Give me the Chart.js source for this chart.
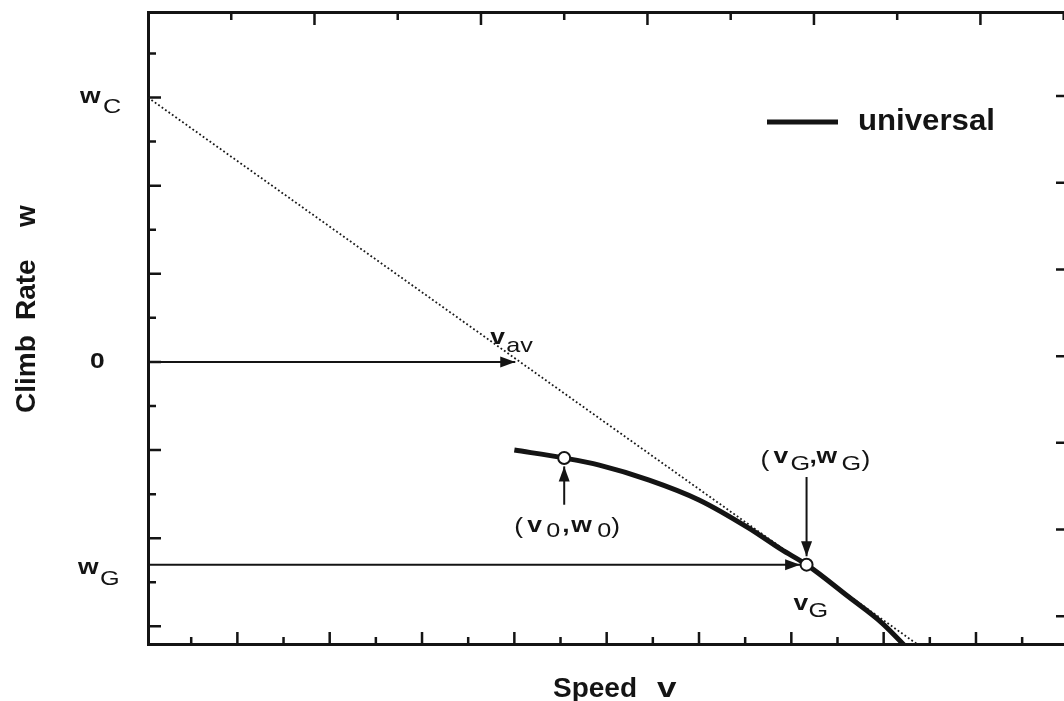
<!DOCTYPE html>
<html lang="en">
<head>
  <meta charset="UTF-8">
  <title>Climb rate vs speed</title>
  <script src="https://cdn.jsdelivr.net/npm/chart.js@4.4.1/dist/chart.umd.min.js"></script>
  <style>
    html, body {
      margin: 0;
      padding: 0;
      overflow: hidden;
      background: #fff;
    }
    .wrap {
      width: 1080px;
      height: 701px;
    }
  </style>
</head>
<body>
  <div class="wrap"><canvas id="polar"></canvas></div>
  <script>
    // axis ranges (units of one tick)
    const X_MIN = 0.064, X_MAX = 20.08;
    const Y_MIN = -6.40, Y_MAX = 7.94;

    // the "universal" polar curve
    const curveV = [8.00, 9.08, 9.84, 10.92, 12.00, 13.08, 13.79, 14.33, 15.24, 15.96, 16.54];
    const curveW = [-2.00, -2.18, -2.34, -2.68, -3.13, -3.77, -4.26, -4.60, -5.33, -5.92, -6.53];

    // dotted tangent from w_C
    const tangentV = [X_MIN, 16.72];
    const tangentW = [6.0, -6.40];

    // marked points (v0,w0) and (vG,wG)
    const markV = [9.08, 14.33];
    const markW = [-2.18, -4.60];

    // arrows: start v, start w, tip v, tip w
    const arrowStartV = [X_MIN, X_MIN, 9.08, 14.33];
    const arrowStartW = [0, -4.60, -3.24, -2.61];
    const arrowEndV = [8.02, 14.19, 9.08, 14.33];
    const arrowEndW = [0, -4.60, -2.37, -4.41];

    // tick marks
    const bottomTicks = [1, 2, 3, 4, 5, 6, 7, 8, 9, 10, 11, 12, 13, 14, 15, 16, 17, 18, 19, 20];
    const topTicks = [1, 2, 3, 4, 5, 6, 7, 8, 9, 10, 11];
    const leftTicks = [-6, -5, -4, -3, -2, -1, 0, 1, 2, 3, 4, 5, 6, 7];
    const rightTicks = [0, 1, 2, 3, 4, 5, 6];

    const INK = '#141414';
    const FAM = "'Liberation Sans', Arial, Helvetica, sans-serif";
    const MAIN = 'bold 22px ' + FAM;
    const SUB = '21px ' + FAM;
    const PAREN = '22px ' + FAM;

    const pts = (xs, ys) => xs.map((x, i) => ({ x: x, y: ys[i] }));

    const datasets = [
      {
        label: 'marks',
        data: pts(markV, markW),
        showLine: false,
        pointRadius: 6,
        pointBackgroundColor: '#fff',
        pointBorderColor: INK,
        pointBorderWidth: 2
      },
      {
        label: 'universal',
        data: pts(curveV, curveW),
        showLine: true,
        borderColor: INK,
        borderWidth: 5,
        pointRadius: 0,
        cubicInterpolationMode: 'monotone'
      },
      {
        label: 'tangent',
        data: pts(tangentV, tangentW),
        showLine: true,
        borderColor: '#1a1a1a',
        borderWidth: 1.8,
        borderDash: [1.8, 2.4],
        pointRadius: 0
      }
    ];
    arrowStartV.forEach((v, i) => {
      datasets.push({
        label: 'arrow' + i,
        isArrow: true,
        data: [{ x: v, y: arrowStartW[i] }, { x: arrowEndV[i], y: arrowEndW[i] }],
        showLine: true,
        borderColor: INK,
        borderWidth: 2,
        pointRadius: 0
      });
    });

    function put(ctx, s, x, y, font, sx) {
      ctx.save();
      ctx.font = font;
      ctx.translate(x, y);
      ctx.scale(sx || 1.2, 1);
      ctx.fillText(s, 0, 0);
      ctx.restore();
    }

    // runs of [text, dx, dy, font] around an anchor pixel
    function runs(ctx, ax, ay, list) {
      list.forEach(r => put(ctx, r[0], ax + r[1], ay + r[2], r[3]));
    }

    const ticksPlugin = {
      id: 'inwardTicks',
      beforeDatasetsDraw(chart) {
        const { ctx, chartArea: a, scales } = chart;
        ctx.save();
        ctx.strokeStyle = INK;
        ctx.lineWidth = 2.5;
        ctx.beginPath();
        bottomTicks.forEach(t => {
          const x = scales.x.getPixelForValue(t);
          const len = t % 2 === 0 ? 12 : 7;
          ctx.moveTo(x, a.bottom); ctx.lineTo(x, a.bottom - len);
        });
        topTicks.forEach(t => {
          const x = scales.x2.getPixelForValue(t);
          const len = t % 2 === 0 ? 13 : 8;
          ctx.moveTo(x, a.top); ctx.lineTo(x, a.top + len);
        });
        leftTicks.forEach(t => {
          const y = scales.y.getPixelForValue(t);
          const len = t % 2 === 0 ? 13 : 8;
          ctx.moveTo(a.left, y); ctx.lineTo(a.left + len, y);
        });
        rightTicks.forEach(t => {
          const y = scales.y2.getPixelForValue(t);
          ctx.moveTo(a.right, y); ctx.lineTo(a.right - 16, y);
        });
        ctx.stroke();
        ctx.restore();
      }
    };

    const notesPlugin = {
      id: 'notes',
      afterDatasetsDraw(chart) {
        const { ctx, chartArea: a, scales } = chart;
        const xs = scales.x, ys = scales.y;
        ctx.save();
        ctx.fillStyle = INK;

        // arrowheads
        chart.data.datasets.forEach((ds, i) => {
          if (!ds.isArrow) return;
          const el = chart.getDatasetMeta(i).data;
          const p = el[0], q = el[1];
          const dx = q.x - p.x, dy = q.y - p.y;
          const d = Math.hypot(dx, dy);
          const ux = dx / d, uy = dy / d;
          const L = 15, W = 5.5;
          ctx.beginPath();
          ctx.moveTo(q.x, q.y);
          ctx.lineTo(q.x - L * ux - W * uy, q.y - L * uy + W * ux);
          ctx.lineTo(q.x - L * ux + W * uy, q.y - L * uy - W * ux);
          ctx.closePath();
          ctx.fill();
        });

        ctx.textAlign = 'left';
        ctx.textBaseline = 'alphabetic';

        // left-side value labels
        const yC = ys.getPixelForValue(tangentW[0]);
        runs(ctx, a.left, yC, [['w', -68, 5.5, MAIN], ['C', -45, 15.5, SUB]]);
        runs(ctx, a.left, ys.getPixelForValue(0), [['0', -58, 6, MAIN]]);
        const yG = ys.getPixelForValue(markW[1]);
        runs(ctx, a.left, yG, [['w', -70, 9, MAIN], ['G', -48, 20, SUB]]);

        // v_av
        const tx = xs.getPixelForValue(arrowEndV[0]);
        runs(ctx, tx, ys.getPixelForValue(0), [['v', -25, -18, MAIN], ['av', -9, -10, SUB]]);

        // (v0,w0)
        const p0x = xs.getPixelForValue(markV[0]), p0y = ys.getPixelForValue(markW[0]);
        runs(ctx, p0x, p0y, [
          ['(', -50, 75, PAREN], ['v', -37, 74, MAIN], ['0', -18, 79, SUB],
          [',', -2, 74, MAIN], ['w', 7, 74, MAIN], ['0', 33, 79, SUB], [')', 47, 75, PAREN]
        ]);

        // (vG,wG) and vG
        const pGx = xs.getPixelForValue(markV[1]), pGy = ys.getPixelForValue(markW[1]);
        runs(ctx, pGx, pGy, [
          ['(', -46, -99, PAREN], ['v', -33, -102, MAIN], ['G', -16, -95, SUB],
          [',', 3, -102, MAIN], ['w', 10, -102, MAIN], ['G', 35, -95, SUB], [')', 55, -99, PAREN]
        ]);
        runs(ctx, pGx, pGy, [['v', -13, 45, MAIN], ['G', 2, 52, SUB]]);

        // legend
        ctx.strokeStyle = INK;
        ctx.lineWidth = 5;
        ctx.beginPath();
        ctx.moveTo(767, 122);
        ctx.lineTo(838, 122);
        ctx.stroke();
        put(ctx, 'universal', 858, 130, 'bold 29px ' + FAM, 1.075);

        ctx.restore();
      },
      afterDraw(chart) {
        const ctx = chart.ctx;
        ctx.save();
        ctx.fillStyle = INK;
        ctx.textAlign = 'left';
        ctx.textBaseline = 'alphabetic';
        // axis titles
        put(ctx, 'Speed', 553, 697, 'bold 28px ' + FAM, 1.0);
        put(ctx, 'v', 657, 697, 'bold 28px ' + FAM, 1.25);
        const TF = 'bold 28px ' + FAM;
        [['Climb', 413], ['Rate', 320], ['w', 227]].forEach(r => {
          ctx.save();
          ctx.font = TF;
          ctx.translate(35, r[1]);
          ctx.rotate(-Math.PI / 2);
          ctx.fillText(r[0], 0, 0);
          ctx.restore();
        });
        ctx.restore();
      }
    };

    const axis = (extra) => Object.assign({
      type: 'linear',
      grid: { display: false, drawTicks: false },
      border: { display: true, color: INK, width: 3 },
      ticks: { display: false }
    }, extra);

    new Chart(document.getElementById('polar'), {
      type: 'scatter',
      data: { datasets: datasets },
      options: {
        responsive: true,
        maintainAspectRatio: false,
        animation: false,
        layout: { padding: 0 },
        plugins: { legend: { display: false }, tooltip: { enabled: false } },
        scales: {
          x: axis({ position: 'bottom', min: X_MIN, max: X_MAX, afterFit: s => { s.height = 57; } }),
          x2: axis({ position: 'top', min: 0, max: 11.1, afterFit: s => { s.height = 12; } }),
          y: axis({ position: 'left', min: Y_MIN, max: Y_MAX, afterFit: s => { s.width = 148; } }),
          y2: axis({ position: 'right', min: -0.32, max: 6.97, afterFit: s => { s.width = 6; } })
        }
      },
      plugins: [ticksPlugin, notesPlugin]
    });
  </script>
</body>
</html>
